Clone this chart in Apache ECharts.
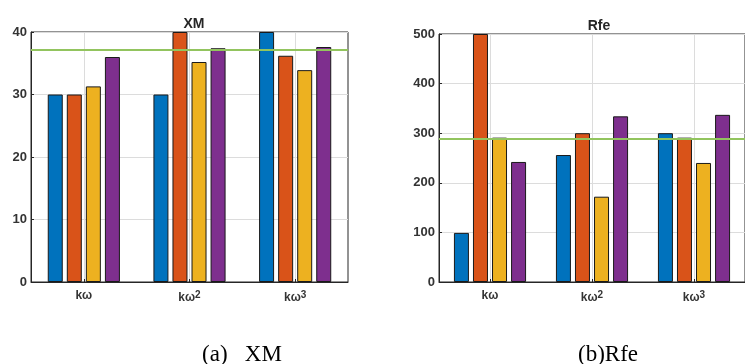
<!DOCTYPE html>
<html><head><meta charset="utf-8">
<script src="https://cdn.jsdelivr.net/npm/echarts@6/dist/echarts.min.js"></script>
<style>html,body{margin:0;padding:0;background:#fff}#c{width:745px;height:364px}</style>
</head><body><div id="c"></div>
<script>
var categories = ['kω', 'kω2', 'kω3'];
var seriesNames = ['s1', 's2', 's3', 's4'];
// XM panel
var xmS1 = [30, 30, 40];
var xmS2 = [30, 40, 36.2];
var xmS3 = [31.3, 35.2, 33.9];
var xmS4 = [36.0, 37.4, 37.6];
var xmRef = 37.1;
var xmTicks = [0, 10, 20, 30, 40];
// Rfe panel
var rfeS1 = [99, 256, 300];
var rfeS2 = [500, 300, 291];
var rfeS3 = [291, 172, 240];
var rfeS4 = [242, 334, 337];
var rfeRef = 288;
var rfeTicks = [0, 100, 200, 300, 400, 500];
var titles = ['XM', 'Rfe'];
var captions = ['(a)   XM', '(b)Rfe'];

var colors = ['#0072BD', '#D95319', '#EDB120', '#7E2F8E'];
var txt = '#333333';
var font = 'Liberation Sans, Arial, sans-serif';

function labelFmt(v) {
  if (v.length > 2) return 'kω{sup|' + v.slice(2) + '}';
  return v;
}

var chart = echarts.init(document.getElementById('c'));
var grids = [
  {left: 31, top: 32, width: 317, height: 250},
  {left: 439, top: 34, width: 316, height: 248}
];
var panelData = [[xmS1, xmS2, xmS3, xmS4], [rfeS1, rfeS2, rfeS3, rfeS4]];
var refs = [xmRef, rfeRef];
var ticks = [xmTicks, rfeTicks];

var option = {
  animation: false,
  title: [
    {text: titles[0], left: 189, top: 12, textAlign: 'center', textStyle: {fontSize: 14, fontWeight: 'bold', color: '#262626', fontFamily: font}},
    {text: titles[1], left: 594, top: 14, textAlign: 'center', textStyle: {fontSize: 14, fontWeight: 'bold', color: '#262626', fontFamily: font}},
    {text: captions[0], left: 237, top: 338, textAlign: 'center', textStyle: {fontSize: 23, fontWeight: 'normal', color: '#000', fontFamily: 'Liberation Serif, Times New Roman, serif'}},
    {text: captions[1], left: 603, top: 338, textAlign: 'center', textStyle: {fontSize: 23, fontWeight: 'normal', color: '#000', fontFamily: 'Liberation Serif, Times New Roman, serif'}}
  ],
  grid: grids.map(function (g) {
    return Object.assign({show: true, borderColor: '#262626', borderWidth: 1, backgroundColor: '#fff', containLabel: false}, g);
  }),
  xAxis: [0, 1].map(function (i) {
    return {
      type: 'category', gridIndex: i, data: categories,
      axisLine: {show: true, lineStyle: {color: '#262626', width: 1}},
      axisTick: {show: true, inside: true, alignWithLabel: true, length: 3, lineStyle: {color: '#262626'}},
      splitLine: {show: true, alignWithLabel: true, lineStyle: {color: '#dcdcdc', width: 1}},
      axisLabel: {
        margin: 8, color: txt, fontWeight: 'bold', fontSize: 12, fontFamily: font,
        formatter: labelFmt,
        rich: {sup: {fontSize: 10, fontWeight: 'bold', color: txt, verticalAlign: 'top', padding: [0, 0, 6, 0], fontFamily: font}}
      }
    };
  }),
  yAxis: [0, 1].map(function (i) {
    var t = ticks[i];
    return {
      type: 'value', gridIndex: i, min: t[0], max: t[t.length - 1], interval: t[1] - t[0],
      axisLine: {show: true, lineStyle: {color: '#262626', width: 1}},
      axisTick: {show: true, inside: true, length: 3, lineStyle: {color: '#262626'}},
      splitLine: {show: true, lineStyle: {color: '#dcdcdc', width: 1}},
      axisLabel: {margin: 4, color: txt, fontWeight: 'bold', fontSize: 13, fontFamily: font}
    };
  }),
  series: []
};

[0, 1].forEach(function (p) {
  panelData[p].forEach(function (arr, k) {
    var s = {
      type: 'bar', name: seriesNames[k], xAxisIndex: p, yAxisIndex: p, data: arr,
      barWidth: 15, barGap: '27%',
      itemStyle: {color: colors[k], borderColor: '#1a1a1a', borderWidth: 1},
      clip: true
    };
    if (k === 3) {
      s.markLine = {
        silent: true, symbol: 'none', label: {show: false},
        lineStyle: {color: '#92C45E', width: 2, type: 'solid'},
        data: [{yAxis: refs[p]}]
      };
    }
    option.series.push(s);
  });
});

chart.setOption(option);
</script>
</body></html>
